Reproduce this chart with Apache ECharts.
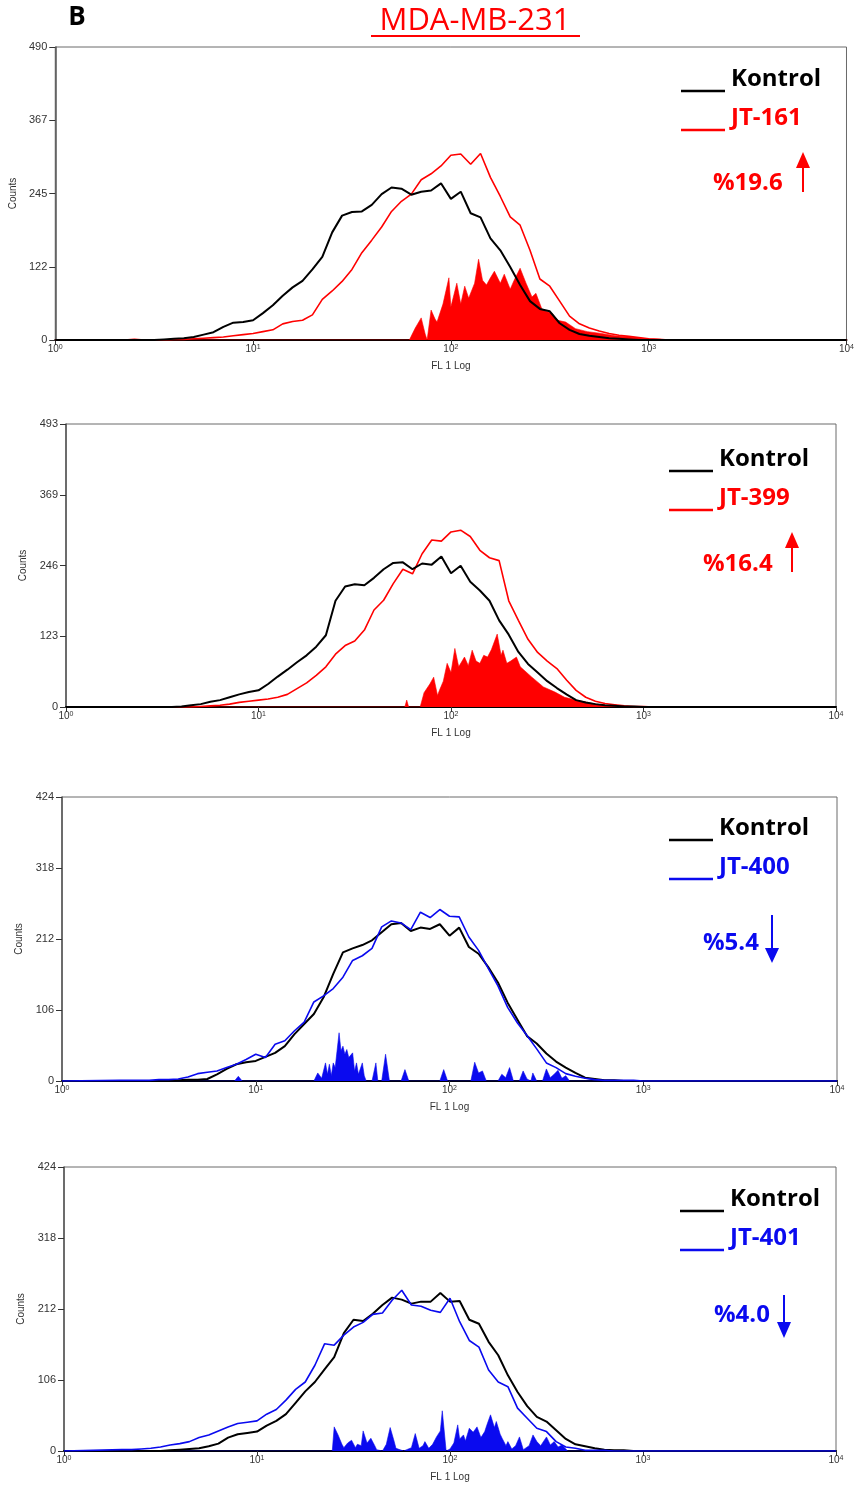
<!DOCTYPE html>
<html>
<head>
<meta charset="utf-8">
<script src="https://cdn.jsdelivr.net/npm/echarts@6/dist/echarts.min.js"></script>
<style>
html, body { margin: 0; padding: 0; background: #fff; }
#chart { width: 857px; height: 1490px; }
</style>
</head>
<body>
<div id="chart"></div>
<script>
// histogram channels, log10(FL1) positions
const logGrid = [
  0.30, 0.35, 0.40, 0.45, 0.50, 0.55, 0.60, 0.65, 0.70, 0.75,
  0.80, 0.85, 0.90, 0.95, 1.00, 1.05, 1.10, 1.15, 1.20, 1.25,
  1.30, 1.35, 1.40, 1.45, 1.50, 1.55, 1.60, 1.65, 1.70, 1.75,
  1.80, 1.85, 1.90, 1.95, 2.00, 2.05, 2.10, 2.15, 2.20, 2.25,
  2.30, 2.35, 2.40, 2.45, 2.50, 2.55, 2.60, 2.65, 2.70, 2.75,
  2.80, 2.85, 2.90, 2.95, 3.00, 3.05, 3.10, 3.15, 3.20, 3.25,
  3.30
];

// panel 1: Kontrol vs JT-161
const kontrol1 = [
  0, 0, 0, 0, 0, 1, 2, 3, 5, 9,
  13, 22, 29, 30, 33, 45, 58, 74, 88, 99,
  118, 139, 180, 208, 214, 215, 226, 244, 255, 253,
  243, 248, 250, 262, 236, 248, 212, 205, 170, 150,
  122, 92, 65, 52, 48, 28, 17, 10, 7, 5,
  3, 2, 1, 0, 0, 0, 0, 0, 0, 0,
  0
];
const jt161 = [
  0, 0, 1, 0, 0, 0, 1, 1, 2, 3,
  4, 5, 7, 9, 11, 14, 17, 27, 31, 33,
  42, 68, 82, 98, 118, 146, 167, 189, 215, 232,
  244, 268, 278, 291, 309, 311, 294, 312, 272, 240,
  206, 192, 150, 102, 90, 65, 40, 27, 20, 15,
  11, 8, 6, 4, 2, 1, 0, 0, 0, 0,
  0
];
const diff161X = [1.79, 1.82, 1.85, 1.87, 1.88, 1.90, 1.92, 1.93, 1.96, 1.99, 2.00, 2.03, 2.05, 2.07, 2.09, 2.12, 2.14, 2.16, 2.18, 2.20, 2.22, 2.25, 2.27, 2.30, 2.32, 2.35, 2.38, 2.41, 2.43, 2.46, 2.48, 2.51, 2.54, 2.58, 2.63, 2.69, 2.76, 2.83, 2.91, 2.99, 3.06, 3.08];
const diff161Y = [0, 20, 37, 10, 0, 50, 35, 30, 60, 104, 55, 95, 60, 90, 70, 95, 135, 100, 92, 104, 115, 95, 110, 85, 100, 120, 95, 72, 78, 52, 48, 45, 33, 30, 19, 14, 11, 7, 5, 2, 1, 0];

// panel 2: Kontrol vs JT-399
const kontrol2 = [
  0, 0, 0, 0, 0, 0, 1, 3, 5, 9,
  12, 17, 22, 26, 29, 40, 53, 65, 78, 90,
  105, 125, 185, 210, 214, 212, 225, 240, 251, 252,
  240, 250, 248, 262, 233, 246, 218, 203, 185, 151,
  126, 96, 75, 60, 45, 33, 22, 12, 8, 5,
  3, 2, 1, 1, 0, 0, 0, 0, 0, 0,
  0
];
const jt399 = [
  0, 0, 0, 0, 0, 0, 0, 0, 1, 2,
  3, 5, 8, 10, 12, 14, 17, 22, 32, 42,
  55, 70, 92, 107, 115, 134, 169, 186, 215, 240,
  232, 267, 291, 289, 305, 308, 297, 273, 260, 255,
  185, 151, 118, 95, 80, 67, 47, 29, 17, 10,
  6, 4, 2, 1, 1, 0, 0, 0, 0, 0,
  0
];
const diff399X = [1.76, 1.77, 1.78, 1.84, 1.86, 1.89, 1.91, 1.93, 1.94, 1.96, 1.98, 2.00, 2.02, 2.04, 2.07, 2.09, 2.11, 2.13, 2.15, 2.17, 2.19, 2.21, 2.24, 2.26, 2.27, 2.29, 2.31, 2.34, 2.36, 2.38, 2.42, 2.48, 2.54, 2.59, 2.65, 2.74, 2.79, 2.86, 2.90];
const diff399Y = [0, 12, 0, 0, 25, 40, 52, 20, 29, 45, 76, 60, 102, 70, 87, 72, 99, 80, 76, 90, 87, 100, 127, 90, 99, 76, 80, 87, 70, 64, 52, 35, 26, 17, 12, 6, 3, 1, 0];

// panel 3: Kontrol vs JT-400
const kontrol3 = [
  0, 0, 0, 0, 0, 0, 1, 2, 2, 3,
  10, 18, 25, 28, 30, 36, 42, 52, 70, 85,
  100, 125, 160, 192, 198, 203, 210, 222, 234, 236,
  224, 229, 227, 234, 217, 229, 200, 190, 170, 147,
  117, 92, 67, 56, 41, 29, 20, 12, 5, 3,
  1, 1, 0, 0, 0, 0, 0, 0, 0, 0,
  0
];
const jt400 = [
  1, 1, 1, 1, 2, 2, 3, 6, 11, 13,
  15, 20, 25, 32, 40, 35, 55, 60, 75, 88,
  118, 127, 138, 155, 180, 187, 198, 230, 239, 236,
  226, 252, 244, 256, 246, 245, 215, 195, 168, 142,
  110, 87, 68, 48, 27, 20, 11, 7, 4, 2,
  1, 1, 1, 1, 0, 0, 0, 0, 0, 0,
  0
];
const diff400X = [0.89, 0.91, 0.93, 1.30, 1.32, 1.34, 1.36, 1.37, 1.38, 1.39, 1.40, 1.41, 1.43, 1.44, 1.45, 1.46, 1.47, 1.48, 1.50, 1.51, 1.52, 1.53, 1.55, 1.56, 1.57, 1.60, 1.62, 1.63, 1.65, 1.67, 1.69, 1.75, 1.77, 1.79, 1.95, 1.97, 1.99, 2.11, 2.13, 2.15, 2.17, 2.19, 2.25, 2.27, 2.29, 2.31, 2.33, 2.36, 2.38, 2.40, 2.42, 2.43, 2.45, 2.48, 2.50, 2.52, 2.54, 2.56, 2.58, 2.60, 2.62];
const diff400Y = [0, 7, 0, 0, 12, 4, 27, 10, 25, 8, 27, 20, 72, 45, 52, 40, 47, 35, 42, 15, 27, 10, 27, 8, 0, 0, 27, 0, 0, 40, 0, 0, 17, 0, 0, 17, 0, 0, 28, 12, 15, 0, 0, 10, 5, 20, 0, 0, 15, 3, 0, 12, 0, 0, 18, 5, 10, 16, 4, 8, 0];

// panel 4: Kontrol vs JT-401
const kontrol4 = [
  0, 0, 0, 0, 0, 1, 2, 3, 4, 7,
  11, 20, 25, 27, 29, 38, 45, 55, 72, 89,
  103, 122, 140, 176, 196, 194, 205, 218, 229, 226,
  220, 223, 223, 236, 223, 224, 196, 190, 163, 143,
  113, 88, 67, 51, 44, 31, 18, 10, 7, 4,
  2, 1, 1, 0, 0, 0, 0, 0, 0, 0,
  0
];
const jt401 = [
  2, 2, 3, 4, 6, 9, 11, 14, 20, 24,
  30, 36, 41, 43, 45, 55, 62, 76, 92, 103,
  128, 160, 158, 173, 185, 192, 204, 206, 225, 240,
  218, 216, 210, 207, 228, 193, 165, 155, 121, 103,
  96, 64, 49, 34, 29, 14, 6, 4, 1, 1,
  1, 0, 0, 0, 0, 0, 0, 0, 0, 0,
  0
];
const diff401X = [1.39, 1.40, 1.42, 1.44, 1.45, 1.47, 1.49, 1.51, 1.52, 1.54, 1.55, 1.57, 1.59, 1.61, 1.62, 1.65, 1.67, 1.69, 1.71, 1.72, 1.76, 1.80, 1.82, 1.84, 1.86, 1.87, 1.89, 1.91, 1.93, 1.95, 1.96, 1.98, 2.00, 2.02, 2.04, 2.05, 2.07, 2.08, 2.10, 2.12, 2.14, 2.16, 2.18, 2.19, 2.21, 2.23, 2.24, 2.26, 2.27, 2.29, 2.30, 2.32, 2.34, 2.36, 2.38, 2.41, 2.43, 2.45, 2.47, 2.50, 2.52, 2.54, 2.56, 2.58, 2.61];
const diff401Y = [0, 36, 24, 10, 5, 12, 16, 5, 10, 8, 30, 12, 19, 8, 2, 0, 10, 35, 15, 4, 0, 5, 26, 4, 8, 14, 4, 10, 21, 30, 60, 0, 3, 12, 39, 18, 24, 15, 34, 28, 36, 20, 29, 38, 54, 35, 44, 25, 19, 8, 14, 3, 8, 21, 2, 8, 24, 14, 8, 21, 9, 14, 6, 9, 0];

const yMax = [490, 493, 424, 424];
const drugNames = ['JT-161', 'JT-399', 'JT-400', 'JT-401'];
const percents = ['%19.6', '%16.4', '%5.4', '%4.0'];

const RED = '#ff0000';
const BLUE = '#0a0aef';

// layout of each panel
const boxes = [
  {left: 54, top: 47, width: 795, height: 293, legX: 681, legY: 79, pctX: 713, pctY: 183, arrowX: 803, arrow: [152, 168, 192]},
  {left: 66, top: 424, width: 770, height: 283, legX: 669, legY: 459, pctX: 703, pctY: 564, arrowX: 792, arrow: [532, 548, 572]},
  {left: 62, top: 797, width: 775, height: 284, legX: 669, legY: 828, pctX: 703, pctY: 943, arrowX: 772, arrow: [963, 948, 915]},
  {left: 64, top: 1167, width: 772, height: 284, legX: 680, legY: 1199, pctX: 714, pctY: 1315, arrowX: 784, arrow: [1338, 1322, 1295]},
];

const panels = [
  {ctrl: kontrol1, trt: jt161, fx: diff161X, fy: diff161Y, color: RED, ctrlOnTop: true},
  {ctrl: kontrol2, trt: jt399, fx: diff399X, fy: diff399Y, color: RED, ctrlOnTop: true},
  {ctrl: kontrol3, trt: jt400, fx: diff400X, fy: diff400Y, color: BLUE, ctrlOnTop: false},
  {ctrl: kontrol4, trt: jt401, fx: diff401X, fy: diff401Y, color: BLUE, ctrlOnTop: false},
];

const toPairs = (xs, ys) => [[1, 0]].concat(xs.map((lx, i) => [Math.pow(10, lx), ys[i]]), [[10000, 0]]);

const axisFont = '"Liberation Sans Narrow", "Liberation Sans", Arial, sans-serif';
const labelFont = '"Open Sans", sans-serif';

const grids = [], xAxes = [], yAxes = [], series = [], graphics = [];

panels.forEach((p, i) => {
  const b = boxes[i];
  grids.push({left: b.left, top: b.top, width: b.width, height: b.height,
    show: true, borderColor: '#6a6a6a', borderWidth: 1, backgroundColor: 'transparent'});
  xAxes.push({
    type: 'log', logBase: 10, min: 1, max: 10000, gridIndex: i,
    name: 'FL 1 Log', nameLocation: 'middle', nameGap: 21,
    nameTextStyle: {fontSize: 10, color: '#333', fontFamily: axisFont},
    axisLine: {lineStyle: {color: '#000', width: 2}},
    axisTick: {length: 5, lineStyle: {color: '#333'}},
    minorTick: {show: false},
    splitLine: {show: false},
    axisLabel: {
      margin: 4, fontFamily: axisFont,
      formatter: v => '{b|10}{s|' + Math.round(Math.log10(v)) + '}',
      rich: {
        b: {fontSize: 10, color: '#333', fontFamily: axisFont},
        s: {fontSize: 7, color: '#333', fontFamily: axisFont, verticalAlign: 'top'}
      }
    }
  });
  yAxes.push({
    type: 'value', min: 0, max: yMax[i], interval: yMax[i] / 4, gridIndex: i,
    name: 'Counts', nameLocation: 'middle', nameGap: 31,
    nameTextStyle: {fontSize: 10, color: '#333', fontFamily: axisFont},
    axisLine: {show: true, lineStyle: {color: '#555', width: 1.5}},
    axisTick: {show: true, length: 6, lineStyle: {color: '#333'}},
    splitLine: {show: false},
    axisLabel: {margin: 8, fontSize: 11, color: '#333', fontFamily: axisFont,
      formatter: v => Math.floor(v + 1e-6)}
  });

  const fill = {
    type: 'line', xAxisIndex: i, yAxisIndex: i, symbol: 'none', silent: true,
    data: toPairs(p.fx, p.fy),
    lineStyle: {color: p.color, width: 0.6},
    areaStyle: {color: p.color, opacity: 1}
  };
  const ctrl = {
    type: 'line', xAxisIndex: i, yAxisIndex: i, symbol: 'none', silent: true,
    data: toPairs(logGrid, p.ctrl),
    lineStyle: {color: '#000', width: 2}
  };
  const trt = {
    type: 'line', xAxisIndex: i, yAxisIndex: i, symbol: 'none', silent: true,
    data: toPairs(logGrid, p.trt),
    lineStyle: {color: p.color, width: 1.6}
  };
  series.push(fill);
  if (p.ctrlOnTop) series.push(trt, ctrl); else series.push(ctrl, trt);

  // legend-like annotations: short stroke + label
  [['Kontrol', '#000', 0], [drugNames[i], p.color, 39]].forEach(([txt, col, dy]) => {
    graphics.push({type: 'line', shape: {x1: b.legX, y1: b.legY + dy + 12, x2: b.legX + 44, y2: b.legY + dy + 12},
      style: {stroke: col, lineWidth: 2.5}});
    graphics.push({type: 'text', x: b.legX + 50, y: b.legY + dy,
      style: {text: txt, fill: col, font: 'bold 24px ' + labelFont, verticalAlign: 'middle'}});
  });
  graphics.push({type: 'text', x: b.pctX, y: b.pctY,
    style: {text: percents[i], fill: p.color, font: 'bold 24px ' + labelFont, verticalAlign: 'middle'}});
  const [tip, headBase, tail] = b.arrow;
  graphics.push({type: 'line', shape: {x1: b.arrowX, y1: headBase, x2: b.arrowX, y2: tail},
    style: {stroke: p.color, lineWidth: 2}});
  graphics.push({type: 'polygon',
    shape: {points: [[b.arrowX - 7, headBase], [b.arrowX + 7, headBase], [b.arrowX, tip]]},
    style: {fill: p.color}});
});

// figure letter and cell line title
graphics.push({type: 'text', x: 77, y: 18,
  style: {text: 'B', fill: '#000', font: 'bold 26px ' + labelFont, align: 'center', verticalAlign: 'middle'}});
graphics.push({type: 'text', x: 475, y: 21,
  style: {text: 'MDA-MB-231', fill: RED, font: '31px ' + labelFont, align: 'center', verticalAlign: 'middle'}});
graphics.push({type: 'line', shape: {x1: 371, y1: 36, x2: 580, y2: 36},
  style: {stroke: RED, lineWidth: 2}});

const chart = echarts.init(document.getElementById('chart'));
chart.setOption({
  animation: false,
  backgroundColor: '#fff',
  grid: grids,
  xAxis: xAxes,
  yAxis: yAxes,
  series: series,
  graphic: graphics
});
</script>
</body>
</html>
